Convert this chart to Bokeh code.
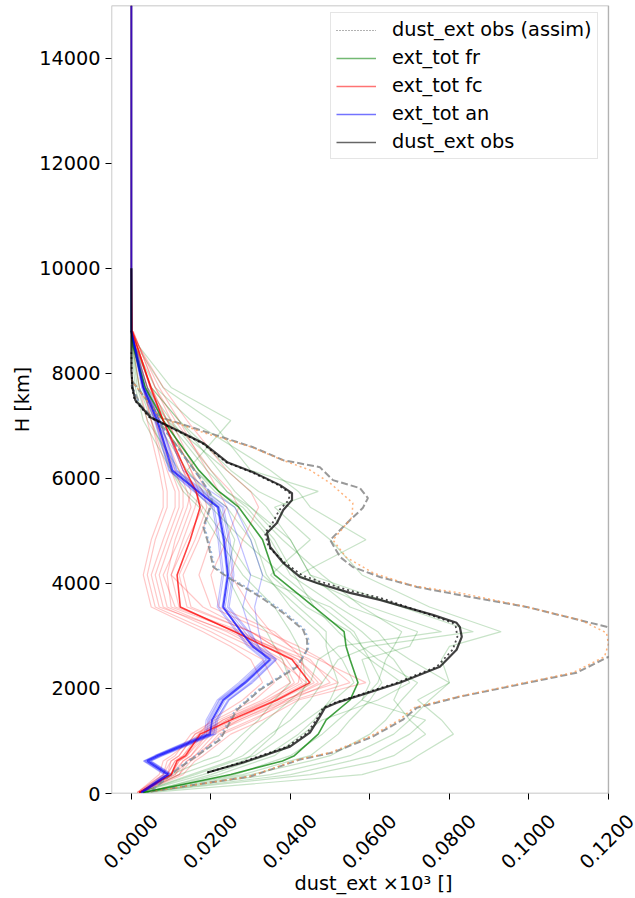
from math import pi
from bokeh.plotting import figure
from bokeh.models import (ColumnDataSource, FixedTicker, PrintfTickFormatter, NumeralTickFormatter,
                          CustomJSTickFormatter, Legend, LegendItem, LinearAxis, Range1d,
                          BoxAnnotation)
from bokeh.embed import file_html
from bokeh.resources import INLINE

# ---------------- data ----------------
X_TICKS = [0.0, 0.02, 0.04, 0.06, 0.08, 0.10, 0.12]
Y_TICKS = [0, 2000, 4000, 6000, 8000, 10000, 12000, 14000]

# model levels (m)
LEV = [20, 360, 620, 720, 1130, 1400, 1780, 2110, 2550, 2800, 3080, 3550,
       4160, 4830, 5450, 5750, 6150, 7100, 7730, 8500, 8800]
LEV_MEAN = LEV + [10000, 15000]

# ensemble means
fr_mean = [0.003, 0.025, 0.038, 0.041, 0.047, 0.049, 0.055, 0.057, 0.055, 0.054, 0.0535,
           0.046, 0.036, 0.033, 0.027, 0.022, 0.017, 0.008, 0.0035, 0.0005, 0.0, 0.0, 0.0]
fc_mean = [0.002, 0.010, 0.0115, 0.0136, 0.0173, 0.025, 0.0366, 0.0449, 0.0404, 0.0336, 0.026,
           0.0123, 0.0115, 0.0148, 0.0173, 0.0163, 0.0136, 0.008, 0.0048, 0.0015, 0.0002, 0.0, 0.0]
an_mean = [0.0025, 0.0093, 0.004, 0.0068, 0.0198, 0.0203, 0.0231, 0.0286, 0.0349, 0.0306, 0.0276,
           0.0231, 0.0243, 0.0233, 0.0218, 0.0168, 0.0103, 0.0065, 0.003, 0.0008, 0.0, 0.0, 0.0]

# ensemble members: first guess run (fr)
fr_members = [
    [0.004, 0.020, 0.030, 0.034, 0.042, 0.046, 0.050, 0.052, 0.050, 0.049, 0.049, 0.042, 0.033, 0.030, 0.024, 0.019, 0.014, 0.006, 0.002, 0.0003, 0.0],
    [0.003, 0.035, 0.050, 0.055, 0.066, 0.070, 0.075, 0.080, 0.078, 0.080, 0.093, 0.075, 0.058, 0.050, 0.040, 0.032, 0.025, 0.012, 0.005, 0.001, 0.0],
    [0.002, 0.015, 0.025, 0.028, 0.035, 0.040, 0.045, 0.048, 0.052, 0.060, 0.086, 0.068, 0.045, 0.040, 0.030, 0.024, 0.020, 0.010, 0.004, 0.0008, 0.0],
    [0.005, 0.058, 0.070, 0.072, 0.081, 0.078, 0.072, 0.080, 0.070, 0.065, 0.062, 0.052, 0.040, 0.035, 0.028, 0.022, 0.016, 0.007, 0.003, 0.0005, 0.0],
    [0.003, 0.012, 0.022, 0.025, 0.030, 0.034, 0.040, 0.045, 0.047, 0.052, 0.078, 0.060, 0.042, 0.059, 0.045, 0.042, 0.035, 0.015, 0.006, 0.001, 0.0],
    [0.002, 0.028, 0.040, 0.045, 0.052, 0.055, 0.060, 0.063, 0.060, 0.058, 0.056, 0.048, 0.038, 0.028, 0.020, 0.016, 0.012, 0.004, 0.0015, 0.0002, 0.0],
    [0.003, 0.022, 0.032, 0.036, 0.043, 0.048, 0.062, 0.070, 0.066, 0.062, 0.058, 0.050, 0.030, 0.024, 0.018, 0.014, 0.010, 0.003, 0.001, 0.0, 0.0],
    [0.004, 0.030, 0.045, 0.050, 0.060, 0.064, 0.068, 0.072, 0.062, 0.058, 0.055, 0.044, 0.035, 0.045, 0.036, 0.047, 0.030, 0.020, 0.008, 0.0015, 0.0],
    [0.002, 0.018, 0.028, 0.030, 0.036, 0.038, 0.042, 0.044, 0.043, 0.042, 0.040, 0.036, 0.028, 0.022, 0.017, 0.013, 0.010, 0.005, 0.002, 0.0003, 0.0],
    [0.003, 0.040, 0.055, 0.060, 0.070, 0.074, 0.058, 0.062, 0.064, 0.066, 0.068, 0.058, 0.048, 0.038, 0.030, 0.026, 0.022, 0.012, 0.005, 0.001, 0.0],
    [0.002, 0.010, 0.018, 0.022, 0.028, 0.032, 0.036, 0.040, 0.038, 0.036, 0.034, 0.028, 0.024, 0.026, 0.022, 0.018, 0.014, 0.025, 0.010, 0.002, 0.0],
    [0.003, 0.026, 0.036, 0.040, 0.048, 0.052, 0.058, 0.060, 0.058, 0.070, 0.072, 0.055, 0.045, 0.040, 0.034, 0.030, 0.024, 0.009, 0.003, 0.0005, 0.0],
    [0.003, 0.045, 0.062, 0.066, 0.074, 0.070, 0.066, 0.068, 0.060, 0.056, 0.052, 0.046, 0.041, 0.036, 0.029, 0.024, 0.019, 0.009, 0.004, 0.0006, 0.0],
    [0.002, 0.016, 0.026, 0.031, 0.039, 0.044, 0.051, 0.056, 0.053, 0.050, 0.047, 0.040, 0.034, 0.031, 0.026, 0.021, 0.016, 0.007, 0.003, 0.0004, 0.0],
]

# ensemble members: forecast (fc)
fc_members = [
    [0.002, 0.009, 0.010, 0.012, 0.016, 0.022, 0.033, 0.040, 0.036, 0.030, 0.022, 0.008, 0.006, 0.009, 0.012, 0.012, 0.010, 0.006, 0.003, 0.001, 0.0],
    [0.002, 0.011, 0.013, 0.015, 0.020, 0.028, 0.040, 0.050, 0.045, 0.038, 0.030, 0.015, 0.013, 0.017, 0.020, 0.019, 0.016, 0.010, 0.006, 0.002, 0.0003],
    [0.0015, 0.008, 0.009, 0.011, 0.015, 0.021, 0.031, 0.036, 0.033, 0.027, 0.020, 0.006, 0.004, 0.006, 0.009, 0.009, 0.008, 0.005, 0.003, 0.0008, 0.0],
    [0.002, 0.012, 0.015, 0.017, 0.022, 0.030, 0.041, 0.055, 0.048, 0.042, 0.034, 0.020, 0.017, 0.020, 0.024, 0.022, 0.019, 0.012, 0.007, 0.002, 0.0003],
    [0.002, 0.010, 0.012, 0.014, 0.018, 0.026, 0.037, 0.046, 0.041, 0.034, 0.028, 0.011, 0.008, 0.012, 0.015, 0.014, 0.012, 0.007, 0.004, 0.001, 0.0],
    [0.0025, 0.013, 0.016, 0.018, 0.025, 0.033, 0.042, 0.059, 0.047, 0.040, 0.035, 0.030, 0.025, 0.028, 0.032, 0.030, 0.024, 0.014, 0.008, 0.002, 0.0005],
    [0.0015, 0.007, 0.008, 0.010, 0.017, 0.020, 0.028, 0.033, 0.030, 0.025, 0.018, 0.005, 0.003, 0.005, 0.008, 0.008, 0.007, 0.004, 0.002, 0.0005, 0.0],
    [0.002, 0.010, 0.012, 0.014, 0.019, 0.024, 0.035, 0.043, 0.039, 0.036, 0.030, 0.018, 0.010, 0.013, 0.016, 0.017, 0.015, 0.009, 0.005, 0.0015, 0.0002],
    [0.002, 0.011, 0.014, 0.016, 0.021, 0.027, 0.038, 0.052, 0.044, 0.035, 0.026, 0.012, 0.010, 0.014, 0.018, 0.016, 0.013, 0.008, 0.005, 0.0015, 0.0],
    [0.002, 0.009, 0.011, 0.013, 0.018, 0.023, 0.034, 0.042, 0.043, 0.040, 0.036, 0.022, 0.020, 0.024, 0.027, 0.025, 0.020, 0.011, 0.006, 0.002, 0.0003],
    [0.0015, 0.008, 0.010, 0.012, 0.016, 0.024, 0.036, 0.044, 0.037, 0.031, 0.024, 0.009, 0.007, 0.010, 0.013, 0.013, 0.011, 0.006, 0.004, 0.001, 0.0],
    [0.002, 0.012, 0.014, 0.016, 0.023, 0.031, 0.039, 0.048, 0.042, 0.036, 0.030, 0.014, 0.012, 0.016, 0.019, 0.018, 0.015, 0.009, 0.005, 0.0015, 0.0002],
    [0.002, 0.010, 0.013, 0.015, 0.019, 0.027, 0.039, 0.047, 0.042, 0.035, 0.027, 0.010, 0.009, 0.011, 0.014, 0.015, 0.013, 0.008, 0.005, 0.0012, 0.0],
    [0.0018, 0.009, 0.011, 0.013, 0.017, 0.023, 0.035, 0.041, 0.038, 0.032, 0.025, 0.007, 0.005, 0.008, 0.011, 0.011, 0.009, 0.005, 0.003, 0.0008, 0.0],
]

# ensemble members: analysis (an)
an_members = [
    [0.0022, 0.0085, 0.0032, 0.0060, 0.0188, 0.0192, 0.0220, 0.0275, 0.0338, 0.0296, 0.0268, 0.0220, 0.0232, 0.0222, 0.0208, 0.0160, 0.0096, 0.0060, 0.0027, 0.0007, 0.0],
    [0.0028, 0.0100, 0.0048, 0.0076, 0.0208, 0.0214, 0.0242, 0.0298, 0.0360, 0.0316, 0.0292, 0.0242, 0.0254, 0.0244, 0.0228, 0.0176, 0.0110, 0.0070, 0.0033, 0.0009, 0.0],
    [0.0024, 0.0090, 0.0036, 0.0064, 0.0194, 0.0198, 0.0226, 0.0282, 0.0344, 0.0302, 0.0276, 0.0228, 0.0240, 0.0230, 0.0215, 0.0165, 0.0100, 0.0063, 0.0029, 0.0008, 0.0],
    [0.0026, 0.0096, 0.0044, 0.0072, 0.0203, 0.0208, 0.0236, 0.0291, 0.0354, 0.0311, 0.0285, 0.0236, 0.0248, 0.0238, 0.0222, 0.0172, 0.0106, 0.0067, 0.0031, 0.0008, 0.0],
    [0.0027, 0.0098, 0.0046, 0.0074, 0.0206, 0.0212, 0.0245, 0.0305, 0.0365, 0.0330, 0.0320, 0.0310, 0.0330, 0.0300, 0.0260, 0.0200, 0.0130, 0.0080, 0.0040, 0.0010, 0.0],
    [0.0023, 0.0088, 0.0034, 0.0062, 0.0190, 0.0195, 0.0222, 0.0280, 0.0340, 0.0320, 0.0300, 0.0280, 0.0300, 0.0270, 0.0240, 0.0185, 0.0115, 0.0072, 0.0035, 0.0009, 0.0],
    [0.0021, 0.0082, 0.0030, 0.0058, 0.0184, 0.0188, 0.0216, 0.0270, 0.0333, 0.0292, 0.0264, 0.0216, 0.0228, 0.0218, 0.0204, 0.0157, 0.0094, 0.0058, 0.0026, 0.0006, 0.0],
    [0.0029, 0.0103, 0.0050, 0.0079, 0.0212, 0.0217, 0.0246, 0.0302, 0.0364, 0.0320, 0.0296, 0.0246, 0.0258, 0.0248, 0.0232, 0.0180, 0.0113, 0.0072, 0.0034, 0.0010, 0.0],
]

# lidar observation (high resolution)
obs_h = [399, 589, 893, 1159, 1463, 1634, 1729, 2109, 2413, 2736, 2983, 3173, 3249, 3400,
         3685, 3818, 4008, 4122, 4388, 4692, 4958, 5148, 5395, 5585, 5718, 5870, 6117,
         6307, 6668, 6915, 7162, 7485, 7713, 8055, 10000]
obs_v = [0.0191, 0.0281, 0.0399, 0.0449, 0.0474, 0.0487, 0.0517, 0.0675, 0.0776, 0.0818,
         0.0831, 0.0826, 0.0818, 0.0758, 0.0625, 0.0550, 0.0467, 0.0424, 0.0382, 0.0349,
         0.0341, 0.0366, 0.0382, 0.0404, 0.0404, 0.0374, 0.0306, 0.0241, 0.0181, 0.0115,
         0.0048, 0.0010, 0.0003, 0.0, 0.0]

# observation as assimilated
assim_h = [399, 589, 893, 1159, 1463, 1634, 1729, 2109, 2413, 2736, 2983, 3173, 3249, 3400,
           3720, 3850, 4040, 4150, 4400, 4692, 4958, 5148, 5395, 5585, 5718, 5870, 6117,
           6307, 6668, 6915, 7162, 7485, 7713, 8400]
assim_v = [0.0191, 0.0275, 0.0392, 0.0443, 0.0470, 0.0482, 0.0512, 0.0668, 0.0768, 0.0808,
           0.0820, 0.0816, 0.0808, 0.0752, 0.0628, 0.0555, 0.0472, 0.0430, 0.0385, 0.0345,
           0.0336, 0.0355, 0.0372, 0.0396, 0.0398, 0.0370, 0.0302, 0.0238, 0.0178, 0.0112,
           0.0045, 0.0008, 0.0002, 0.0]

# observation +/- error (dashed grey)
obs_hi_h = [38, 323, 646, 779, 1083, 1406, 1634, 1843, 2299, 2584, 2750, 2950, 3173, 3552,
            3742, 3932, 4122, 4312, 4502, 4825, 5015, 5205, 5433, 5623, 5813, 5965, 6212,
            6345, 6592, 6858, 7162, 7865]
obs_hi_v = [0.0048, 0.0299, 0.0424, 0.0507, 0.0607, 0.0683, 0.0718, 0.0826, 0.1120, 0.1195,
            0.1250, 0.1255, 0.1195, 0.0994, 0.0851, 0.0718, 0.0625, 0.0557, 0.0525, 0.0500,
            0.0525, 0.0550, 0.0582, 0.0595, 0.0575, 0.0507, 0.0474, 0.0382, 0.0306, 0.0198,
            0.0073, 0.0]
obs_lo_h = [40, 456, 1026, 1596, 1976, 2413, 2736, 2926, 3116, 3438, 3742, 4122, 4312, 4825,
            5072, 5452, 5528, 5718, 6003, 6915, 7390, 7770]
obs_lo_v = [0.0048, 0.0115, 0.0223, 0.0266, 0.0324, 0.0417, 0.0442, 0.0442, 0.0432, 0.0382,
            0.0324, 0.0241, 0.0206, 0.0191, 0.0181, 0.0198, 0.0203, 0.0198, 0.0173, 0.0085,
            0.0023, 0.0]

# assimilated observation +/- error (dotted)
assim_hi_h = [38, 323, 646, 779, 1083, 1406, 1634, 1843, 2299, 2603, 2850, 3059, 3300, 3560,
              3818, 3950, 4198, 4500, 4825, 5262, 5528, 5908, 6155, 6345, 6600, 6860, 7170, 7870]
assim_hi_v = [0.0048, 0.0295, 0.0420, 0.0500, 0.0600, 0.0675, 0.0710, 0.0820, 0.1110, 0.1190,
              0.1200, 0.1195, 0.1130, 0.0990, 0.0826, 0.0710, 0.0608, 0.0540, 0.0507, 0.0555,
              0.0557, 0.0500, 0.0450, 0.0380, 0.0300, 0.0185, 0.0070, 0.0]
assim_lo_h = [40, 450, 1030, 1600, 1980, 2420, 2740, 2930, 3120, 3440, 3740, 4120, 4310, 4830,
              5070, 5450, 5530, 5720, 6000, 6920, 7390, 7770]
assim_lo_v = [0.0048, 0.0110, 0.0218, 0.0262, 0.0320, 0.0412, 0.0445, 0.0446, 0.0436, 0.0388,
              0.0330, 0.0247, 0.0210, 0.0194, 0.0184, 0.0200, 0.0204, 0.0199, 0.0172, 0.0083,
              0.0022, 0.0]

# ---------------- figure ----------------
FONT = "DejaVu Sans"
FS = "19.3px"
X_START, X_END = -0.005, 0.12       # visible axes box
X_VIEW_END = 0.1268                 # frame runs on to the page edge (room for the last tick label)
p = figure(width=635, height=898, x_range=(X_START, X_VIEW_END), y_range=(0, 15000),
           output_backend="svg", toolbar_location=None,
           min_border_left=111, min_border_right=0, min_border_top=5, min_border_bottom=104)
p.background_fill_color = "white"
p.border_fill_color = "white"
p.outline_line_color = None
p.xgrid.visible = False
p.ygrid.visible = False

# ensemble members
ens_specs = [(fr_members, "green", 0.22), (fc_members, "red", 0.22), (an_members, "blue", 0.25)]
for members, col, alpha in ens_specs:
    src = ColumnDataSource(dict(xs=members, ys=[LEV] * len(members)))
    p.multi_line("xs", "ys", source=src, line_color=col, line_alpha=alpha, line_width=1.2)

# observation error bounds
p.line(obs_hi_v, obs_hi_h, line_color="gray", line_alpha=0.8, line_width=2, line_dash="7 3")
p.line(obs_lo_v, obs_lo_h, line_color="gray", line_alpha=0.8, line_width=2, line_dash="7 3")
p.line(assim_hi_v, assim_hi_h, line_color="#ff9a50", line_alpha=0.75, line_width=1.5, line_dash="2 3")
p.line(assim_lo_v, assim_lo_h, line_color="#7fa6d6", line_alpha=0.75, line_width=1.5, line_dash="2 3")

# ensemble means
p.line(fr_mean, LEV_MEAN, line_color="green", line_alpha=0.75, line_width=1.6)
p.line(fc_mean, LEV_MEAN, line_color="red", line_alpha=0.75, line_width=1.6)
p.line(an_mean, LEV_MEAN, line_color="blue", line_alpha=0.7, line_width=2.0)

# observations
p.line(assim_v, assim_h, line_color="black", line_alpha=0.7, line_width=1.8, line_dash="2 3")
p.line(obs_v, obs_h, line_color="black", line_alpha=0.75, line_width=2.2)

# mask everything right of the axes box, then draw the axes box
p.add_layout(BoxAnnotation(left=X_END, fill_color="white", fill_alpha=1.0, line_alpha=0,
                           level="overlay"))
p.add_layout(BoxAnnotation(right=X_END, fill_alpha=0, line_color="black", line_width=1.4,
                           level="overlay"))

# legend proxies (single NaN point: never drawn in the plot)
nan = float("nan")
def proxy(**kw):
    return p.line("x", "y", source=ColumnDataSource(dict(x=[nan], y=[nan])), **kw)
lg_assim = proxy(line_color="black", line_alpha=0.6, line_width=1.2, line_dash="1 2")
lg_fr = proxy(line_color="green", line_alpha=0.55, line_width=1.5)
lg_fc = proxy(line_color="red", line_alpha=0.55, line_width=1.5)
lg_an = proxy(line_color="blue", line_alpha=0.55, line_width=1.5)
lg_obs = proxy(line_color="black", line_alpha=0.6, line_width=1.5)

legend = Legend(items=[
    LegendItem(label="dust_ext obs (assim)", renderers=[lg_assim]),
    LegendItem(label="ext_tot fr", renderers=[lg_fr]),
    LegendItem(label="ext_tot fc", renderers=[lg_fc]),
    LegendItem(label="ext_tot an", renderers=[lg_an]),
    LegendItem(label="dust_ext obs", renderers=[lg_obs]),
], location=(219, 634))
legend.label_text_font = FONT
legend.label_text_font_size = FS
legend.label_text_color = "black"
legend.glyph_width = 40
legend.glyph_height = 20
legend.label_height = 20
legend.spacing = 5
legend.padding = 5
legend.margin = 0
legend.label_standoff = 16
legend.border_line_color = "#cccccc"
legend.border_line_width = 1
legend.background_fill_alpha = 0.8
p.add_layout(legend)

# axes: the main x axis carries the ticks only
p.xaxis.ticker = FixedTicker(ticks=X_TICKS)
p.yaxis.ticker = FixedTicker(ticks=Y_TICKS)
p.yaxis.formatter = PrintfTickFormatter(format="%d")
p.xaxis.formatter = CustomJSTickFormatter(code="return ''")
p.xaxis.major_label_standoff = 0
for ax in (p.xaxis, p.yaxis):
    ax.axis_line_color = None
    ax.major_tick_in = 0
    ax.major_tick_out = 6
    ax.major_tick_line_color = "black"
    ax.minor_tick_line_color = None
    ax.major_label_text_font = FONT
    ax.major_label_text_font_size = FS
    ax.major_label_text_color = "black"
    ax.axis_label_text_font = FONT
    ax.axis_label_text_font_size = FS
    ax.axis_label_text_font_style = "normal"
    ax.axis_label_text_color = "black"
p.yaxis.axis_label = "H [km]"
p.yaxis.axis_label_standoff = 2

# second x axis: rotated tick labels, shifted so that each label is centred under its tick
LABEL_SHIFT = 0.0058
p.extra_x_ranges = {"lab": Range1d(X_START - LABEL_SHIFT, X_VIEW_END - LABEL_SHIFT)}
lab_axis = LinearAxis(x_range_name="lab", ticker=FixedTicker(ticks=X_TICKS),
                      formatter=NumeralTickFormatter(format="0.0000"))
lab_axis.axis_line_color = None
lab_axis.major_tick_in = 0
lab_axis.major_tick_out = 0
lab_axis.minor_tick_line_color = None
lab_axis.major_label_orientation = pi / 4
lab_axis.major_label_standoff = 18
lab_axis.major_label_text_font = FONT
lab_axis.major_label_text_font_size = FS
lab_axis.major_label_text_color = "black"
lab_axis.axis_label = "dust_ext ×10³ []"
lab_axis.axis_label_text_font = FONT
lab_axis.axis_label_text_font_size = FS
lab_axis.axis_label_text_font_style = "normal"
lab_axis.axis_label_text_color = "black"
lab_axis.axis_label_standoff = -6
p.add_layout(lab_axis, "below")

open("out.html", "w").write(file_html(p, INLINE))
